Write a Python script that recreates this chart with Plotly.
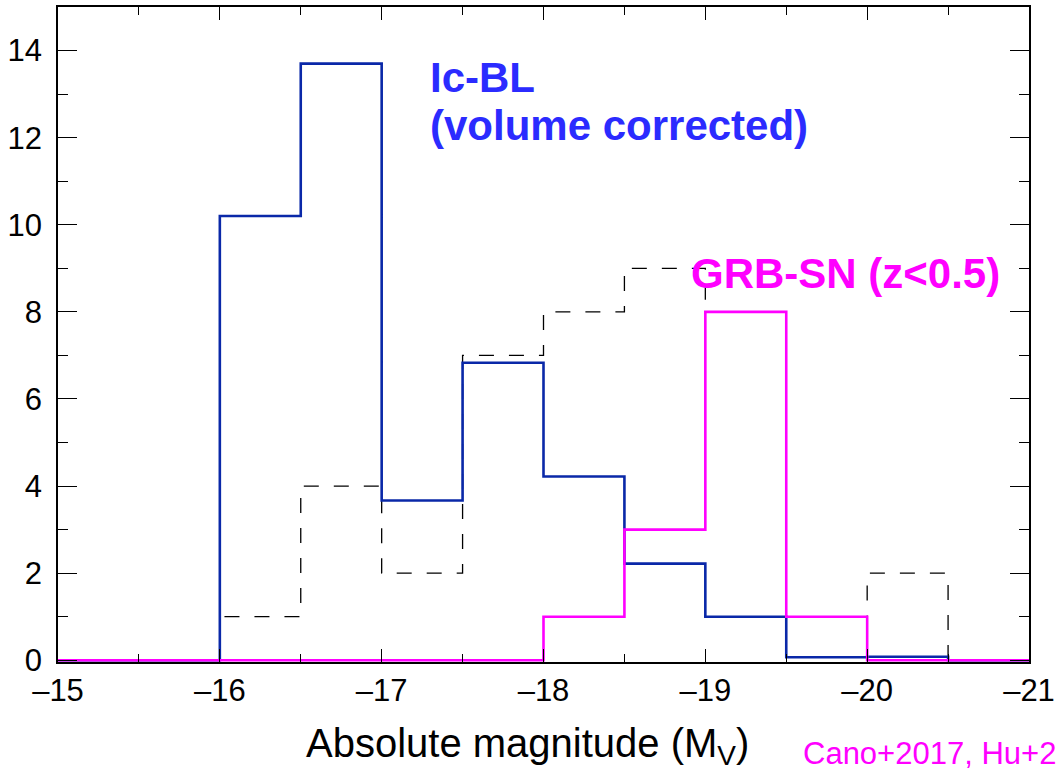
import plotly.graph_objects as go

# Bin left edges (absolute magnitude), width 0.5 mag
bin_edges = [-15.0, -15.5, -16.0, -16.5, -17.0, -17.5, -18.0, -18.5, -19.0, -19.5, -20.0, -20.5, -21.0]

# Ic-BL volume corrected (blue)
icbl_vals = [0, 0, 10.2, 13.7, 3.67, 6.83, 4.22, 2.22, 1.0, 0.07, 0.08, 0]
# GRB-SN z<0.5 (magenta)
grbsn_vals = [0, 0, 0, 0, 0, 0, 1, 3, 8, 1, 0, 0]
# Ic-BL raw counts (dashed)
raw_vals = [0, 0, 1, 4, 2, 7, 8, 9, 8, 1, 2, 0]

x_ticks = [-15, -16, -17, -18, -19, -20, -21]
x_ticklabels = ["\u201315", "\u201316", "\u201317", "\u201318", "\u201319", "\u201320", "\u201321"]
y_ticks = [0, 2, 4, 6, 8, 10, 12, 14]

FONT = "Liberation Sans, Arial, Helvetica, sans-serif"

def step(vals):
    return bin_edges, list(vals) + [vals[-1]]

fig = go.Figure()
x, y = step(raw_vals)
fig.add_trace(go.Scatter(x=x, y=y, mode="lines", line=dict(shape="hv", color="black", width=1.3, dash="15px,15px"), showlegend=False))
x, y = step(icbl_vals)
fig.add_trace(go.Scatter(x=x, y=y, mode="lines", line=dict(shape="hv", color="#0a28a8", width=2.6), showlegend=False))
x, y = step(grbsn_vals)
fig.add_trace(go.Scatter(x=x, y=y, mode="lines", line=dict(shape="hv", color="#ff00ff", width=2.6), showlegend=False))

L, R, T, B = 58, 1029, 5, 662
W, H = 1061, 772

def px(p):
    return (p - L) / (R - L)

def py(p):
    return (B - p) / (B - T)

ann = [
    dict(text="<b>Ic-BL</b>", x=px(429), y=py(76), xanchor="left", yanchor="middle", font=dict(size=42, color="#2b2bff", family=FONT)),
    dict(text="<b>(volume corrected)</b>", x=px(429), y=py(124), xanchor="left", yanchor="middle", font=dict(size=42, color="#2b2bff", family=FONT)),
    dict(text="<b>GRB-SN (z<0.5)</b>", x=px(690), y=py(272), xanchor="left", yanchor="middle", font=dict(size=42, color="#ff00ff", family=FONT)),
    dict(text="Absolute magnitude (M<sub>V</sub>)", x=px(305), y=py(746), xanchor="left", yanchor="middle", font=dict(size=40, color="black", family=FONT)),
    dict(text="Cano+2017, Hu+2", x=px(802), y=py(754), xanchor="left", yanchor="middle", font=dict(size=31, color="#ff00ff", family=FONT)),
]
for a in ann:
    a.update(xref="paper", yref="paper", showarrow=False, borderpad=0)

fig.update_layout(
    width=W, height=H,
    margin=dict(l=L, r=W - R, t=T, b=H - B),
    paper_bgcolor="white", plot_bgcolor="white",
    annotations=ann,
    font=dict(family=FONT, color="black"),
)
fig.update_xaxes(
    range=[-15, -21], tickvals=x_ticks, ticktext=x_ticklabels,
    ticks="inside", ticklen=13, tickwidth=1.3, tickcolor="black",
    minor=dict(ticks="inside", ticklen=8, dtick=0.5, tick0=-15, tickcolor="black", tickwidth=1.3),
    showline=True, linecolor="black", linewidth=1.5, mirror="allticks",
    showgrid=False, zeroline=False, tickfont=dict(size=31), ticklabelstandoff=0,
)
fig.update_yaxes(
    range=[-0.04, 15], tickvals=y_ticks,
    ticks="inside", ticklen=19, tickwidth=1.3, tickcolor="black",
    minor=dict(ticks="inside", ticklen=10, dtick=1, tick0=0, tickcolor="black", tickwidth=1.3),
    showline=True, linecolor="black", linewidth=1.5, mirror="allticks",
    showgrid=False, zeroline=False, tickfont=dict(size=31), ticklabelstandoff=8,
)

fig.write_html("out.html")
